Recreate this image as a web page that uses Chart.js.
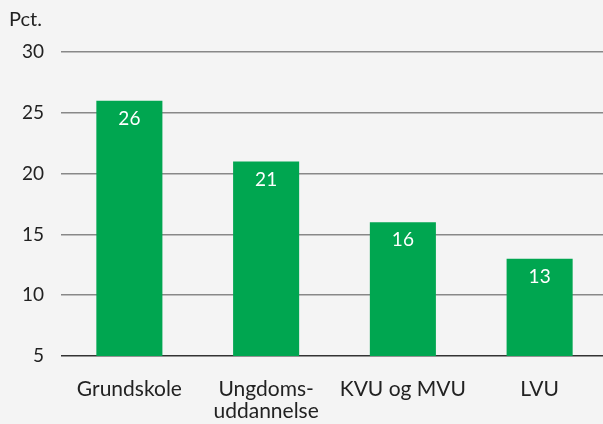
<!DOCTYPE html>
<html>
<head>
<meta charset="utf-8">
<script src="https://cdn.jsdelivr.net/npm/chart.js@4"></script>
<style>
  html, body { margin: 0; padding: 0; background: #f4f4f4; overflow: hidden; }
  #wrap { width: 603px; height: 424px; position: relative; overflow: hidden; }
</style>
</head>
<body>
<div id="wrap"><canvas id="myChart" width="608" height="424"></canvas></div>
<script>
var categories = ['Grundskole', ['Ungdoms-', 'uddannelse'], 'KVU og MVU', 'LVU'];
var values = [26, 21, 16, 13];
var yTicks = [5, 10, 15, 20, 25, 30];
var unitLabel = 'Pct.';

var green = '#00a650';
var textColor = '#222222';

// labels inside bars and the unit above the axis
var barLabels = {
    id: 'barLabels',
    afterDatasetsDraw: function(chart) {
        var ctx = chart.ctx;
        var meta = chart.getDatasetMeta(0);
        ctx.save();
        ctx.font = '19px Lato';
        ctx.fillStyle = '#ffffff';
        ctx.textAlign = 'center';
        ctx.textBaseline = 'middle';
        meta.data.forEach(function(bar, i) {
            ctx.fillText(String(values[i]), bar.x, bar.y + 18);
        });
        ctx.font = '20px Lato';
        ctx.fillStyle = textColor;
        ctx.textAlign = 'left';
        ctx.fillText(unitLabel, 9, 20);
        ctx.restore();
    }
};

var ctx = document.getElementById('myChart').getContext('2d');
var myChart = new Chart(ctx, {
    type: 'bar',
    data: {
        labels: categories,
        datasets: [{
            data: values,
            backgroundColor: green,
            borderWidth: 0,
            barPercentage: 0.483,
            categoryPercentage: 1
        }]
    },
    options: {
        responsive: false,
        animation: false,
        layout: { padding: { top: 52, left: 0, right: 0, bottom: 0 } },
        plugins: {
            legend: { display: false },
            tooltip: { enabled: false }
        },
        scales: {
            x: {
                grid: { display: false, drawTicks: false },
                border: { display: false },
                ticks: {
                    color: textColor,
                    font: { family: 'Lato', size: 21, lineHeight: 1.05 },
                    padding: 22,
                    maxRotation: 0,
                    autoSkip: false
                },
                afterFit: function(scale) { scale.height = 68; }
            },
            y: {
                min: 5,
                max: 30,
                afterBuildTicks: function(scale) {
                    scale.ticks = yTicks.map(function(v) { return { value: v }; });
                },
                grid: {
                    drawTicks: false,
                    lineWidth: 1.5,
                    color: function(c) {
                        return c.tick && c.tick.value === 5 ? '#333333' : '#888888';
                    }
                },
                border: { display: false },
                ticks: {
                    color: textColor,
                    font: { family: 'Lato', size: 19 },
                    padding: 17
                },
                afterFit: function(scale) { scale.width = 61; }
            }
        }
    },
    plugins: [barLabels]
});
</script>
</body>
</html>
